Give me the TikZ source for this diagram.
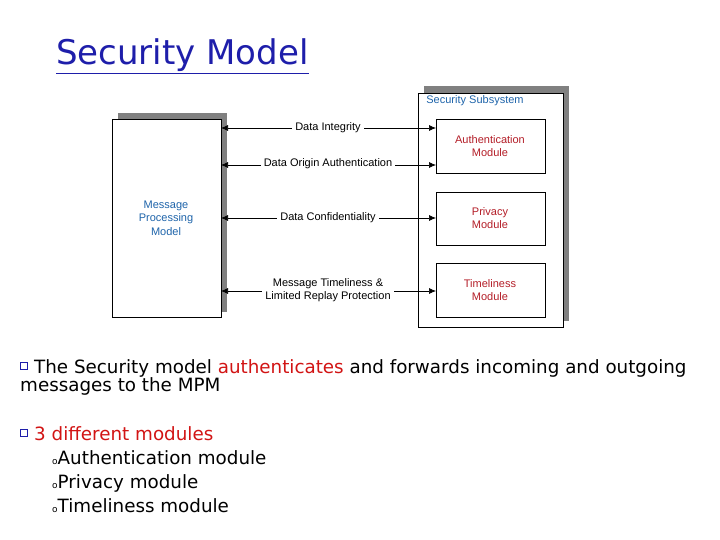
\documentclass[tikz,border=0pt]{standalone}
\usepackage{fontspec}
\setmainfont{DejaVu Sans}
\newfontfamily\arialf{Liberation Sans}
\usetikzlibrary{arrows.meta}
\definecolor{tblue}{RGB}{30,30,170}
\definecolor{lblue}{RGB}{30,100,170}
\definecolor{dred}{RGB}{180,30,40}
\definecolor{bred}{RGB}{210,20,20}
\definecolor{shad}{RGB}{128,128,128}
\begin{document}
\begin{tikzpicture}[x=1pt,y=-1pt,
  box/.style={draw=black,fill=white,line width=0.6pt},
  shadow/.style={fill=shad},
  lab/.style={font=\arialf\fontsize{11}{13.5}\selectfont,align=center,inner sep=1pt},
  mod/.style={lab,text=dred},
  conn/.style={{Latex[length=7pt,width=6pt]}-{Latex[length=7pt,width=6pt]},line width=0.7pt},
  bul/.style={font=\fontsize{18.3}{20}\selectfont,anchor=base west,inner sep=0pt},
  sq/.style={draw=tblue,fill=white,line width=1.2pt,minimum size=7pt,inner sep=0pt}]
\useasboundingbox (0,0) rectangle (720,540);
\fill[white] (0,0) rectangle (720,540);
% title
\node[anchor=base west,inner sep=0pt,text=tblue,font=\fontsize{34}{38}\selectfont] (title) at (56,65) {\underline{Security Model}};
% MPM
\fill[shadow] (118,113) rectangle (227,312);
\draw[box] (112,119) rectangle (221,317);
\node[lab,text=lblue] (mpm) at (166,218) {Message\\Processing\\Model};
\coordinate (ml1) at (221,128);
\coordinate (ml2) at (221,165);
\coordinate (ml3) at (221,218);
\coordinate (ml4) at (221,291);
% Subsystem
\fill[shadow] (424,86) rectangle (569,321);
\draw[box] (418,93) rectangle (563,327);
\node[lab,text=lblue] (ss) at (475,101) {Security Subsystem};
\draw[box] (436,119) rectangle (545,173);
\node[mod] (auth) at (490,146) {Authentication\\Module};
\draw[box] (436,192) rectangle (545,245);
\node[mod] (priv) at (490,218) {Privacy\\Module};
\draw[box] (436,263) rectangle (545,317);
\node[mod] (time) at (490,290) {Timeliness\\Module};
\coordinate (a1) at (436,128);
\coordinate (a2) at (436,165);
\coordinate (p1) at (436,218);
\coordinate (t1) at (436,291);
\draw[conn] (ml1) -- (a1);
\draw[conn] (ml2) -- (a2);
\draw[conn] (ml3) -- (p1);
\draw[conn] (ml4) -- (t1);
\node[lab,fill=white,inner xsep=3pt] (l1) at (328,128) {Data Integrity};
\node[lab,fill=white,inner xsep=3pt] (l2) at (328,164) {Data Origin Authentication};
\node[lab,fill=white,inner xsep=3pt] (l3) at (328,218) {Data Confidentiality};
\node[lab,fill=white,inner xsep=3pt] (l4) at (328,290) {Message Timeliness \&\\Limited Replay Protection};
% bullets
\node[sq] (s1) at (24,366) {};
\node[bul] (b1) at (34,373) {The Security model \textcolor{bred}{authenticates} and forwards incoming and outgoing};
\node[bul] (b1b) at (20,391) {messages to the MPM};
\node[sq] (s2) at (24,433) {};
\node[bul,text=bred] (b2) at (34,440) {3 different modules};
\node[bul] (c1) at (52,464) {{\fontsize{9}{9}\selectfont o}Authentication module};
\node[bul] (c2) at (52,488) {{\fontsize{9}{9}\selectfont o}Privacy module};
\node[bul] (c3) at (52,512) {{\fontsize{9}{9}\selectfont o}Timeliness module};
\end{tikzpicture}
\end{document}
